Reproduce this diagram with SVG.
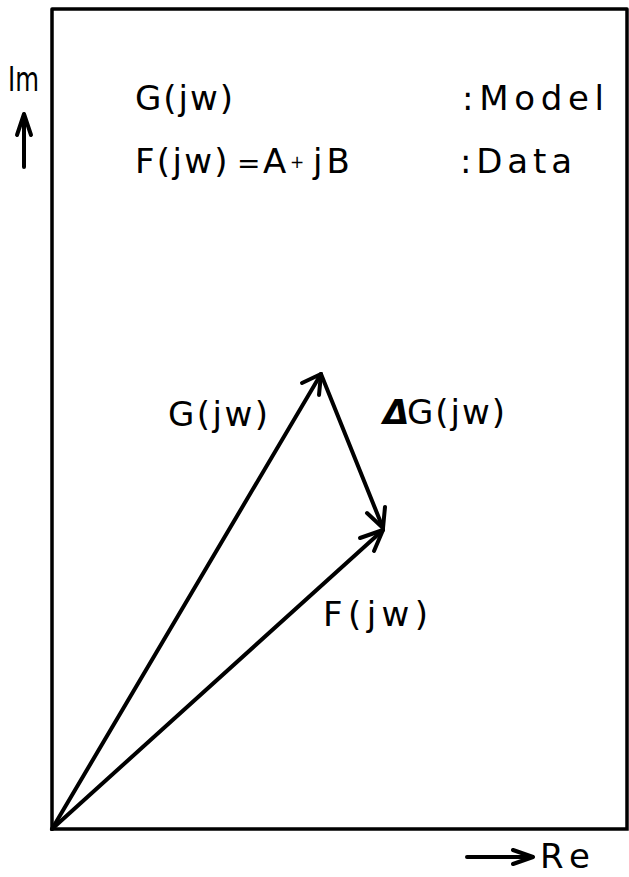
<svg xmlns="http://www.w3.org/2000/svg" width="629" height="877" viewBox="0 0 629 877">
<style>
.ln{stroke:#000;stroke-width:4;fill:none;stroke-linecap:round;stroke-linejoin:round}
.fr{stroke:#000;stroke-width:3.5;fill:none;stroke-linecap:square;stroke-linejoin:round}
.t{font-family:"DejaVu Sans","Liberation Sans",sans-serif;font-size:34px;fill:#000}
</style>
<rect width="629" height="877" fill="#fff"/>
<g id="frame">
<path class="fr" d="M52,829 L52,9 L627,9 L627,829 M52,829 L627,829"/>
</g>
<g id="axes">
<text class="t" x="8" y="91" font-size="31" textLength="31" lengthAdjust="spacingAndGlyphs">Im</text>
<path class="ln" d="M24,167 L24,116 M17,135 L24,114 L31,135" stroke-width="3.5"/>
<path class="ln" d="M467,857 L533,857 M513,850 L533,857 L513,864" stroke-width="3"/>
<text class="t" x="540" y="868" font-size="30" textLength="50">Re</text>
</g>
<g id="legend">
<text class="t" x="135" y="110" textLength="98">G(jw)</text>
<text class="t" x="462" y="110" textLength="142">:Model</text>
<text class="t" y="173"><tspan x="135" letter-spacing="2.3">F(jw)</tspan><tspan x="237" letter-spacing="0" font-size="28">=</tspan><tspan x="263">A</tspan><tspan x="290" dy="-5" font-size="17">+</tspan><tspan x="313" dy="5" letter-spacing="4">jB</tspan></text>
<text class="t" x="460" y="173" textLength="112">:Data</text>
</g>
<g id="connectors">
<path class="ln" d="M52,829 L321,374"/>
<path class="ln" d="M302,383 L321,374 L319,395"/>
<path class="ln" d="M321,374 L383,528"/>
<path class="ln" d="M367,513 L383,528 L385,507"/>
<path class="ln" d="M52,829 L383,530"/>
<path class="ln" d="M360,538 L383,530 L374,551"/>
</g>
<g id="labels">
<text class="t" x="168" y="426" textLength="100">G(jw)</text>
<text class="t" x="383" y="424" font-style="italic" font-weight="bold">Δ</text>
<text class="t" x="407" y="424" textLength="98">G(jw)</text>
<text class="t" x="323" y="626" textLength="105">F(jw)</text>
</g>
</svg>
